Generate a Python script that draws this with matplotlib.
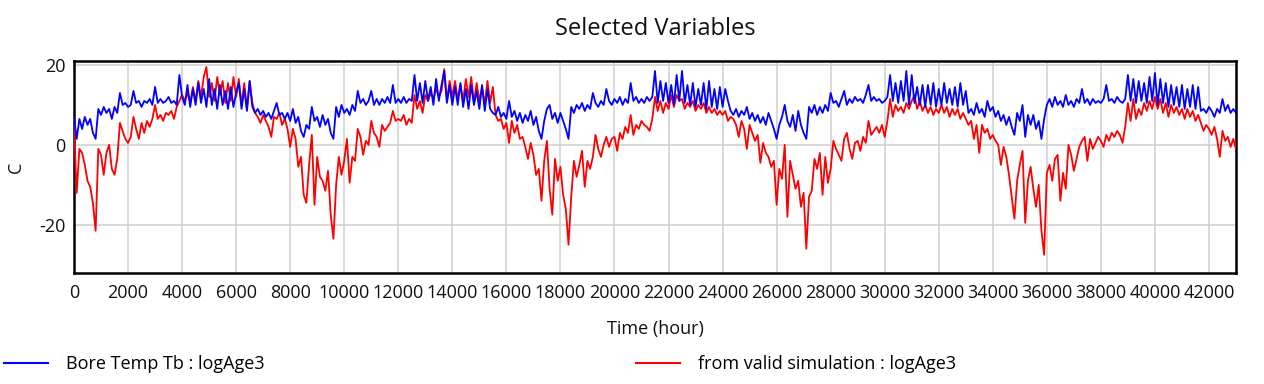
import numpy as np
import matplotlib
matplotlib.use("Agg")
import matplotlib.pyplot as plt
from matplotlib.lines import Line2D

plt.rcParams['font.family'] = ['Open Sans', 'DejaVu Sans']

title = "Selected Variables"
x_label = "Time (hour)"
y_label = "C"
series_names = ["Bore Temp Tb : logAge3", "from valid simulation : logAge3"]
step_hours = 100
x_ticks = list(range(0, 42001, 2000))
y_ticks = [-20, 0, 20]

bore_temp = [
    7, 1.5, 6.5, 4, 7, 5, 6.5, 3, 1.5, 9, 7.5, 9.5, 8, 9, 6.5, 9.5, 8, 13, 10, 10.5, 9.5,
    10, 13.5, 10.5, 11, 9.5, 11, 10.5, 11.5, 10, 14.5, 10.5, 11.5, 10.5, 11, 12, 10.5, 11, 10, 17.5, 12,
    10, 15, 9.5, 14, 10, 15.5, 10.5, 14, 9.5, 16.5, 10, 14, 9, 15, 10, 13.5, 9, 14.5, 9.5, 13,
    15.5, 9, 14, 8.5, 16, 9.5, 8, 9, 7.5, 8.5, 7, 8, 6.5, 8.5, 10.5, 7.5, 8, 6.5, 8, 6,
    9, 5.5, 7, 3.5, 2, 5, 4, 9.5, 6, 7, 4.5, 7.5, 5, 6.5, 3, 1.5, 9.5, 7, 10, 8,
    9, 7.5, 10, 8.5, 13.5, 10.5, 11.5, 10, 11, 13.5, 10, 11.5, 10, 11.5, 10.5, 12, 10.5, 15, 10.5, 11.5,
    10.5, 12, 10.5, 11.5, 11, 17.5, 11, 15.5, 10.5, 16, 11, 14.5, 10, 16.5, 11, 15, 18.5, 10.5, 15, 10,
    14.5, 10, 15.5, 9.5, 14, 9, 15, 10, 13.5, 9, 15, 8.5, 14, 9, 8, 7.5, 9.5, 7, 8, 6.5,
    11, 7, 8.5, 6, 8, 5.5, 7.5, 6, 8.5, 5, 7, 3.5, 1.5, 6, 9, 10, 6.5, 8, 5.5, 8,
    6, 4, 1.5, 9.5, 8, 10, 9, 10.5, 8.5, 10, 9, 13, 10.5, 9.5, 11, 10, 14, 11, 10, 11.5,
    10.5, 12, 10, 11.5, 10.5, 15.5, 11, 12, 10.5, 11.5, 10.5, 12, 11, 12, 18.5, 10.5, 16, 11, 15.5, 10.5,
    15, 10, 17.5, 11, 18.5, 10.5, 15, 10, 15.5, 9.5, 14, 10, 15.5, 9, 16, 9.5, 14, 9, 14.5, 9.5,
    14, 11, 8.5, 7.5, 9, 7, 8.5, 7.5, 9.5, 6.5, 8, 6, 7.5, 5.5, 7, 5, 8, 6, 4, 1.5,
    5, 7, 10, 6, 4.5, 7.5, 3.5, 8.5, 5, 3, 1.5, 9.5, 8, 10, 7.5, 9.5, 8, 10, 8.5, 13,
    10.5, 11, 9.5, 11.5, 13.5, 10, 11.5, 10.5, 12, 11, 11.5, 10.5, 12.5, 15, 11, 12, 11, 11.5, 10.5, 11,
    12, 17.5, 11, 15.5, 10.5, 16, 11, 18.5, 10, 17.5, 10.5, 14.5, 10, 15, 9.5, 15, 10, 15.5, 9.5, 14,
    10, 15.5, 10.5, 14, 10, 14.5, 9.5, 15.5, 10, 13.5, 8, 9, 7.5, 10.5, 8, 9, 7, 11, 8.5, 9.5,
    7, 8.5, 6, 7.5, 5, 7, 4.5, 2.5, 8, 6, 10, 2, 7.5, 5, 7.5, 4, 6, 1.5, 6.5, 10,
    11.5, 9.5, 12, 10, 11, 9.5, 12.5, 10, 11, 9.5, 11.5, 10.5, 14, 10.5, 11.5, 10, 11.5, 10.5, 11, 10.5,
    11.5, 15, 11, 11.5, 10.5, 12, 11, 10.5, 11.5, 17.5, 11, 16.5, 10.5, 16, 11, 15.5, 10.5, 17, 11, 18,
    10, 16.5, 10.5, 15.5, 9.5, 15, 10, 14.5, 9.5, 15, 9, 14, 9.5, 15, 9, 14.5, 8.5, 9, 8, 9.5,
    8.5, 7, 9, 8, 11.5, 8.5, 10, 8, 9, 8,
]

valid_sim = [
    5, -12, -1, -2, -5, -9, -10.5, -14.5, -21.5, -1, -2.5, -7.5, -2, 0, -6, -7.5, -3.5, 5.5, 3.5, 1.5, 0.5,
    2, 7, 4, 1.5, 5.5, 3, 6, 4.5, 6.5, 10, 6.5, 7.5, 6, 8, 7.5, 8.5, 6.5, 9.5, 11, 12.5,
    11, 13, 10.5, 14.5, 11, 16, 12, 17, 19.5, 12, 15.5, 11, 17, 12.5, 16, 10.5, 15.5, 11, 17, 12,
    16.5, 10, 15.5, 9, 16, 10.5, 8, 7, 5.5, 7.5, 6, 4.5, 2, 7, 6.5, 8, 5, 6.5, 4, -0.5,
    4, 1.5, -5.5, -3, -12.5, -14.5, -5, 2.5, -15, -3, -8, -9, -11.5, -6.5, -17.5, -23.5, -10, -3, -7.5, -4,
    1.5, -9.5, -3, -4, 4, 2, -2.5, 1, 0, 6, 3, 2, -0.5, 5, 3.5, 4.5, 5.5, 8.5, 6, 6.5,
    6, 7.5, 5, 6.5, 5.5, 12.5, 9, 11, 8, 12.5, 11, 13, 11.5, 14, 12, 13.5, 19, 11, 16, 12,
    16, 11.5, 15, 11, 16.5, 12, 17, 10.5, 15.5, 11, 14.5, 10, 16, 10.5, 14.5, 7.5, 6, 6.5, 4, 5.5,
    0.5, 6, 3, 5, 1.5, 2, -0.5, -3.5, 0.5, -2.5, -7.5, -6, -14, -4, 1, -11, -17.5, -3.5, -9, -5.5,
    -12.5, -16, -25, -13, -4, -8, -5, -1.5, -10.5, -4, -6, -3, 2.5, -1, -3, 0, 2, -0.5, 1.5, 2,
    -1.5, 3, 1.5, 4.5, 3, 7.5, 2.5, 5, 4, 6, 5, 4.5, 3.5, 6.5, 12, 8.5, 11, 8, 10.5, 9,
    12.5, 9.5, 12.5, 11, 11.5, 9, 10.5, 9.5, 11, 8.5, 10, 9, 10.5, 8, 9.5, 8, 9, 7.5, 8.5, 7.5,
    8.5, 6, 7, 6.5, 5, 2, 6, 4, -1, 5, 3, 1, 2.5, -4.5, 0.5, -2, -3, -5.5, -4, -15,
    -6, -8.5, 0, -18, -4, -7.5, -11, -9, -15.5, -12, -26, -13, -11.5, -3.5, -6, -2, -12.5, -3, -9.5, -6,
    1, -1, -2.5, -4, 1.5, 3, -1, -3.5, 0.5, 1, -1.5, 2, 0.5, 6, 2.5, 3.5, 4.5, 3, 5, 2,
    6, 11.5, 7, 10, 8.5, 9.5, 8, 10.5, 9, 11, 12.5, 9, 11, 8.5, 10, 8, 9.5, 7.5, 9, 8,
    10, 8, 9.5, 7, 9, 7.5, 9, 6.5, 8, 6.5, 5, 6, 1.5, 5, -2, 5, 3, 4, 1.5, 2.5,
    1, 0, -5, -0.5, -3, -7.5, -13, -18.5, -9, -5, -1.5, -19.5, -9, -5.5, -11, -15.5, -10, -21.5, -27.5, -7,
    -5, -9, -3.5, -2.5, -14, -7, -11, 0, -2.5, -6.5, -3.5, -0.5, 1, 2, -4, 1.5, -1, 0.5, 2, 1,
    -0.5, 2.5, 1, 3, 2, 3.5, 2.5, 0.5, 4.5, 10.5, 6, 11.5, 6.5, 9, 7.5, 10.5, 8.5, 11, 9, 12,
    9, 11.5, 8, 10.5, 7, 10, 8, 9.5, 7.5, 9, 6.5, 9, 7, 8.5, 6, 7.5, 5.5, 3.5, 5, 4,
    2.5, 4.5, 1.5, -3, 3.5, 1, 2, -0.5, 1.5, -1,
]

hours = np.arange(len(bore_temp)) * step_hours
hours_sim = np.arange(len(valid_sim)) * step_hours

fig = plt.figure(figsize=(12.64, 3.84), dpi=100)
ax = fig.add_axes([74 / 1264, 111.3 / 384, 1162 / 1264, 211.7 / 384])

ax.plot(hours_sim, valid_sim, color="#ff0000", lw=1.3, zorder=3)
ax.plot(hours, bore_temp, color="#0000ff", lw=1.3, zorder=4)

ax.set_xlim(0, 43000)
ax.set_ylim(-32, 21)
ax.set_xticks(x_ticks)
ax.set_xticklabels([str(v) for v in x_ticks])
ax.set_yticks(y_ticks)
ax.set_yticklabels([str(v) for v in y_ticks])
ax.grid(True, color="#d0d0d0", lw=1.1, zorder=0)
ax.set_axisbelow(True)
ax.tick_params(axis="both", length=0, labelsize=13, colors="#111111")
ax.tick_params(axis="x", pad=8)
ax.tick_params(axis="y", pad=6)
for sp in ax.spines.values():
    sp.set_linewidth(1.8)
    sp.set_color("black")

ax.set_title(title, fontsize=17, pad=19, color="#111111")
ax.set_xlabel(x_label, fontsize=13, labelpad=13, color="#111111")
ax.set_ylabel(y_label, fontsize=13, color="#111111")
ax.yaxis.set_label_coords(-0.042, 0.5)

handles = [Line2D([], [], color="#0000ff", lw=1.5), Line2D([], [], color="#ff0000", lw=1.5)]
fig.legend(handles, series_names, loc="center left", bbox_to_anchor=(0.0, 0.052),
           ncol=2, frameon=False, fontsize=13, handlelength=2.44, handletextpad=1.0,
           columnspacing=20.6, borderaxespad=0, borderpad=0.2)

fig.savefig("out.png", dpi=100)
